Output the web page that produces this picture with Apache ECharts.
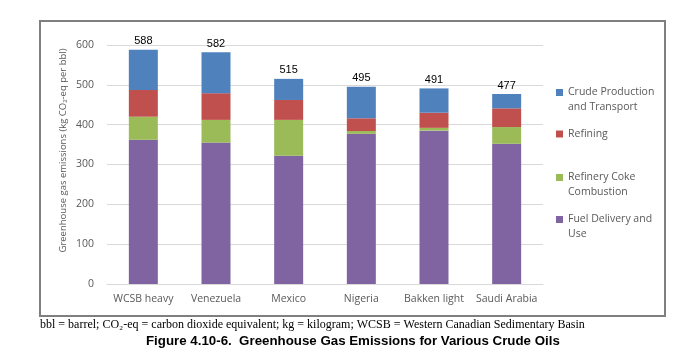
<!DOCTYPE html>
<html>
<head>
<meta charset="utf-8">
<script src="https://cdn.jsdelivr.net/npm/echarts@6/dist/echarts.min.js"></script>
<style>html,body{margin:0;padding:0;background:#fff;}#c{width:691px;height:359px;}</style>
</head>
<body>
<div id="c"></div>
<script>
var categories = ['WCSB heavy', 'Venezuela', 'Mexico', 'Nigeria', 'Bakken light', 'Saudi Arabia'];
var fuelDelivery = [362, 355, 322, 377, 385, 352];
var cokeCombustion = [58, 57, 90, 7, 7, 42];
var refining = [67, 67, 50, 32, 38, 47];
var crudeProduction = [101, 103, 53, 79, 61, 36];
var totals = [588, 582, 515, 495, 491, 477];
var yTicks = [0, 100, 200, 300, 400, 500, 600];

var seriesNames = ['Crude Production\nand Transport', 'Refining', 'Refinery Coke\nCombustion', 'Fuel Delivery and\nUse'];
var colors = { crude: '#4f81bd', refining: '#c0504d', coke: '#9bbb59', fuel: '#8064a2' };

var chart = echarts.init(document.getElementById('c'), null, { renderer: 'canvas' });

function legendAt(name, top, twoLine) {
  return {
    data: [name],
    left: 556, top: top, orient: 'vertical', padding: 0,
    itemWidth: 7, itemHeight: 7, icon: 'rect', selectedMode: false,
    formatter: function (n) { return twoLine ? ' \n' + n : n; },
    textStyle: { fontFamily: 'Open Sans', fontSize: 10.5, color: '#595959', lineHeight: 15 }
  };
}

var option = {
  animation: false,
  backgroundColor: '#fff',
  grid: { left: 107, right: 148, top: 45, bottom: 75 },
  legend: [
    legendAt(seriesNames[0], 92.5 - 22.5, true),
    legendAt(seriesNames[1], 134 - 7.5, false),
    legendAt(seriesNames[2], 177.5 - 22.5, true),
    legendAt(seriesNames[3], 219.5 - 22.5, true)
  ],
  xAxis: {
    type: 'category', data: categories,
    axisLine: { lineStyle: { color: '#d9d9d9', width: 1 } },
    axisTick: { show: false },
    axisLabel: { color: '#595959', fontFamily: 'Open Sans', fontSize: 10.5, margin: 10, interval: 0 }
  },
  yAxis: {
    type: 'value', min: 0, max: 600, interval: 100,
    name: 'Greenhouse gas emissions (kg CO\u2082-eq per bbl)',
    nameLocation: 'middle', nameGap: 39, nameRotate: 90, nameMoveOverlap: false,
    nameTextStyle: { color: '#595959', fontFamily: 'Open Sans', fontSize: 9.5, padding: [0, 0, 0, 28] },
    axisLine: { show: false }, axisTick: { show: false },
    axisLabel: {
      color: '#595959', fontFamily: 'Open Sans', fontSize: 10.5, margin: 13,
      formatter: function (v) { return yTicks.indexOf(v) >= 0 ? String(v) : ''; }
    },
    splitLine: { lineStyle: { color: '#d9d9d9', width: 1 } }
  },
  series: [
    { name: seriesNames[3], type: 'bar', stack: 'total', data: fuelDelivery, barWidth: 29, itemStyle: { color: colors.fuel } },
    { name: seriesNames[2], type: 'bar', stack: 'total', data: cokeCombustion, itemStyle: { color: colors.coke } },
    { name: seriesNames[1], type: 'bar', stack: 'total', data: refining, itemStyle: { color: colors.refining } },
    {
      name: seriesNames[0], type: 'bar', stack: 'total', data: crudeProduction, itemStyle: { color: colors.crude },
      label: {
        show: true, position: 'top', distance: 3,
        formatter: function (p) { return String(totals[p.dataIndex]); },
        color: '#000', fontFamily: 'Liberation Sans', fontSize: 11
      }
    }
  ],
  graphic: [
    { type: 'rect', shape: { x: 40, y: 21, width: 625, height: 295 }, style: { fill: 'none', stroke: '#7f7f7f', lineWidth: 2 }, z: 10 },
    { type: 'text', left: 40, top: 319, style: { text: 'bbl = barrel; CO\u2082-eq = carbon dioxide equivalent; kg = kilogram; WCSB = Western Canadian Sedimentary Basin', fill: '#000', font: '12px "Liberation Serif"' } },
    { type: 'text', left: 146, top: 335, style: { text: 'Figure 4.10-6.  Greenhouse Gas Emissions for Various Crude Oils', fill: '#000', font: 'bold 13.3px "Liberation Sans"' } }
  ]
};
chart.setOption(option);
</script>
</body>
</html>
